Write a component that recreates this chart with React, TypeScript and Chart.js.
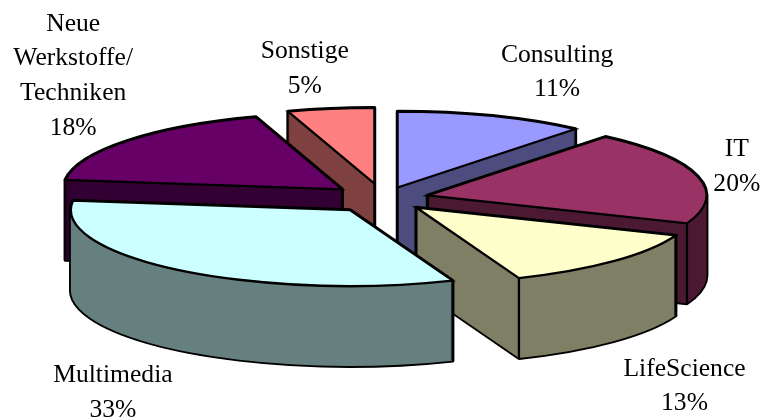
import React, { useEffect, useRef } from "react";
import { Chart, registerables } from "chart.js";

Chart.register(...registerables);

const categories = ["Consulting", "IT", "LifeScience", "Multimedia", "Neue Werkstoffe/ Techniken", "Sonstige"];
const values = [11, 20, 13, 33, 18, 5];
const labelLines = [["Consulting"], ["IT"], ["LifeScience"], ["Multimedia"], ["Neue", "Werkstoffe/", "Techniken"], ["Sonstige"]];
const topColors = ["#9999FF", "#993366", "#FFFFCC", "#CCFFFF", "#660066", "#FF8080"];
const wallColors = ["#4C4C7F", "#4C1933", "#7F7F66", "#667F7F", "#330033", "#7F4040"];
const explode = [43, 46, 47, 54, 53, 55];
const labelShiftX = [65, 39, 71, -66, -54, -26];
const labelShiftY = [-44, -10, 125, 123, -65, -40];

const RADIUS = 279;
const TILT = 0.272;
const DEPTH = 80;
const LINE = 2.3;
const FONT = '25.6px "Liberation Serif"';
const LINE_STEP = 34.6;
const TAU = Math.PI * 2;

const pie3d = {
  id: "pie3d",
  beforeDatasetsDraw(chart: any) {
    const ctx = chart.ctx as CanvasRenderingContext2D;
    const arcs: any[] = chart.getDatasetMeta(0).data;
    const slices = arcs.map((arc, i) => {
      const mid = (arc.startAngle + arc.endAngle) / 2;
      return {
        arc,
        i,
        dx: Math.cos(mid) * explode[i],
        dy: Math.sin(mid) * explode[i] * TILT,
      };
    });
    slices.sort((a, b) => a.dy - b.dy);

    const addSector = (s: any, depth: number) => {
      const { x, y, startAngle, endAngle, outerRadius } = s.arc;
      const cx = x + s.dx;
      const cy = y + s.dy + depth;
      ctx.moveTo(cx, cy);
      ctx.ellipse(cx, cy, outerRadius, outerRadius * TILT, 0, startAngle, endAngle);
      ctx.closePath();
    };
    const fillTop = (s: any) => {
      const { x, y } = s.arc;
      ctx.save();
      ctx.translate(x + s.dx, y + s.dy);
      ctx.scale(1, TILT);
      ctx.translate(-x, -y);
      s.arc.draw(ctx);
      ctx.restore();
    };

    ctx.save();
    ctx.strokeStyle = "#000";
    for (const s of slices) {
      const { x, y, startAngle, endAngle, outerRadius } = s.arc;

      // extruded body: one path of stacked sectors, so it is filled in a single pass
      ctx.beginPath();
      for (let d = DEPTH; d >= 0; d -= 1) addSector(s, d);
      ctx.lineJoin = "round";
      ctx.lineWidth = LINE * 1.6;
      ctx.stroke();
      ctx.fillStyle = wallColors[s.i];
      ctx.fill("nonzero");

      // inner vertical edges: only front-facing rim corners and apexes the top face leaves open
      ctx.lineWidth = LINE;
      const cx = x + s.dx;
      const cy = y + s.dy;
      ctx.beginPath();
      for (const a of [startAngle, endAngle]) {
        if (Math.sin(a) > 0) {
          const px = cx + Math.cos(a) * outerRadius;
          const py = cy + Math.sin(a) * outerRadius * TILT;
          ctx.moveTo(px, py);
          ctx.lineTo(px, py + DEPTH);
        }
      }
      const down = Math.PI / 2;
      const hidesApex = [down, down + TAU].some((a) => a > startAngle && a < endAngle);
      if (!hidesApex) {
        ctx.moveTo(cx, cy);
        ctx.lineTo(cx, cy + DEPTH);
      }
      ctx.stroke();

      fillTop(s);
      ctx.beginPath();
      addSector(s, 0);
      ctx.lineJoin = "miter";
      ctx.lineWidth = LINE;
      ctx.stroke();
    }
    ctx.restore();
    return false;
  },
  afterDraw(chart: any) {
    const ctx = chart.ctx as CanvasRenderingContext2D;
    const arcs: any[] = chart.getDatasetMeta(0).data;
    ctx.save();
    ctx.font = FONT;
    ctx.fillStyle = "#000";
    ctx.textAlign = "center";
    ctx.textBaseline = "middle";
    arcs.forEach((arc, i) => {
      const mid = (arc.startAngle + arc.endAngle) / 2;
      const reach = arc.outerRadius + explode[i];
      const ax = arc.x + Math.cos(mid) * reach + labelShiftX[i];
      const ay = arc.y + Math.sin(mid) * reach * TILT + labelShiftY[i];
      const lines = [...labelLines[i], `${values[i]}%`];
      lines.forEach((text, n) => {
        ctx.fillText(text, ax, ay + (n - (lines.length - 1) / 2) * LINE_STEP);
      });
    });
    ctx.restore();
  },
};

export default function App() {
  const ref = useRef<HTMLCanvasElement>(null);
  useEffect(() => {
    const chart = new Chart(ref.current as HTMLCanvasElement, {
      type: "pie",
      data: {
        labels: categories,
        datasets: [{ data: values, backgroundColor: topColors, borderWidth: 0 }],
      },
      options: {
        animation: false,
        responsive: false,
        radius: RADIUS,
        layout: { padding: { left: 3, bottom: 23 } },
        plugins: { legend: { display: false }, tooltip: { enabled: false } },
      } as any,
      plugins: [pie3d as any],
    });
    return () => chart.destroy();
  }, []);
  return (
    <div style={{ position: "fixed", left: 0, top: 0, width: 763, height: 420, background: "#fff" }}>
      <canvas ref={ref} width={763} height={420} style={{ display: "block" }} />
    </div>
  );
}
